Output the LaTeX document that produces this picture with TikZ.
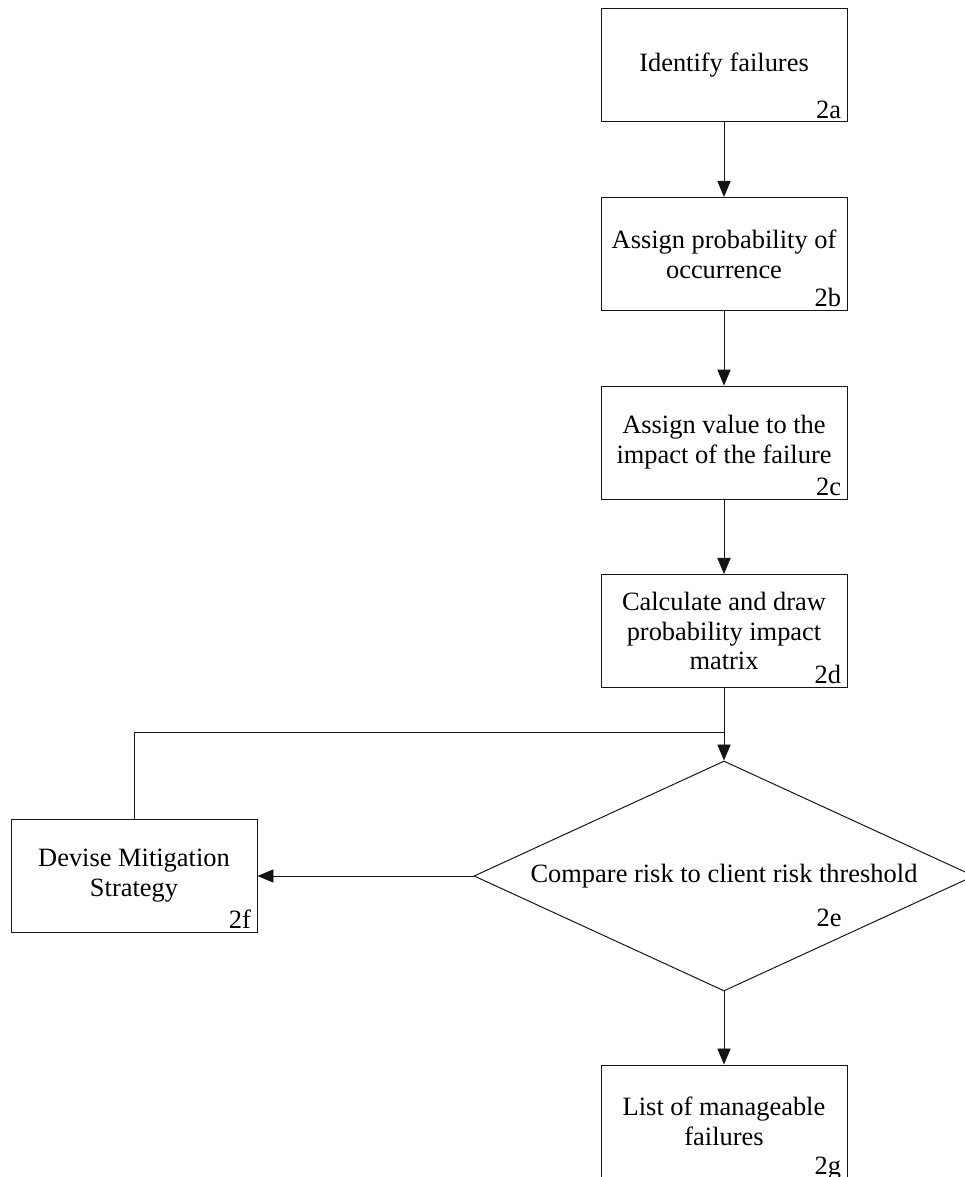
\documentclass[tikz,border=0pt]{standalone}
\usepackage{fontspec}
\setmainfont{Liberation Serif}
\usetikzlibrary{shapes.geometric,arrows.meta}

\definecolor{flowink}{RGB}{20,20,20}

\begin{document}
\begin{tikzpicture}[font=\fontsize{18.8}{21.3}\selectfont, line width=0.7pt,
  procbox/.style={draw=flowink, rectangle, minimum width=6.15cm, minimum height=2.825cm, align=center, inner sep=2pt},
  decide/.style={draw=flowink, diamond, aspect=2.17, minimum width=12.5cm, minimum height=5.75cm, inner sep=0pt},
  numtag/.style={anchor=base east, inner sep=0pt, xshift=-0.15cm, yshift=0.1cm},
  flow/.style={draw=flowink, -{Triangle[length=0.4cm,width=0.33cm]}}]
\useasboundingbox (0,0) rectangle (24.1,29.425);

%% main column
\node[procbox] (ident) at (18.1,27.79) {Identify failures};
\node[numtag] (ta) at (ident.south east) {2a};
\node[procbox] (prob) at (18.1,23.075) {Assign probability of\\occurrence};
\node[numtag] (tb) at (prob.south east) {2b};
\node[procbox] (impact) at (18.1,18.36) {Assign value to the\\impact of the failure};
\node[numtag] (tc) at (impact.south east) {2c};
\node[procbox] (matrix) at (18.1,13.65) {Calculate and draw\\probability impact\\matrix};
\node[numtag] (td) at (matrix.south east) {2d};

%% decision and outcomes
\node[decide] (cmp) at (18.1,7.525) {Compare risk to client risk threshold};
\node[anchor=base, inner sep=0pt] (te) at ([xshift=2.625cm, yshift=-1.275cm]cmp.center) {2e};
\node[procbox] (mitig) at (3.35,7.525) {Devise Mitigation\\Strategy};
\node[numtag] (tf) at (mitig.south east) {2f};
\node[procbox] (list) at (18.1,1.3875) {List of manageable\\failures};
\node[numtag] (tg) at (list.south east) {2g};

%% connectors
\coordinate (merge) at (18.1,11.125);
\draw[flow] (ident.south) -- (prob.north);
\draw[flow] (prob.south) -- (impact.north);
\draw[flow] (impact.south) -- (matrix.north);
\draw[flow] (matrix.south) -- (cmp.north);
\draw[flow] (cmp.west) -- (mitig.east);
\draw[flowink] (mitig.north) |- (merge);
\draw[flow] (cmp.south) -- (list.north);
\end{tikzpicture}
\end{document}
